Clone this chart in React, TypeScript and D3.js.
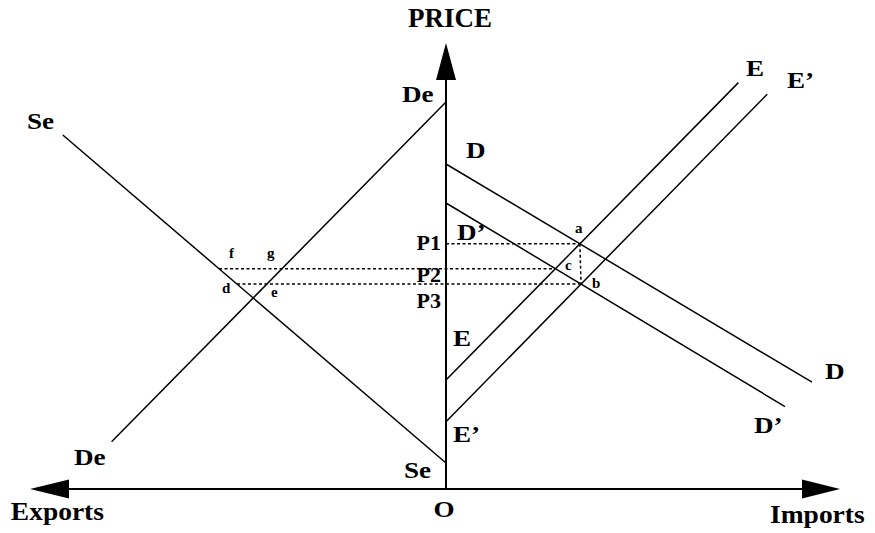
import React from "react";
import * as d3 from "d3";

// Curves: [quantity, price] endpoints in diagram units (imports > 0, exports < 0)
const deCurve: [number, number][] = [[0, 9.675], [-8.36, 1.18]];
const seCurve: [number, number][] = [[-9.58, 8.85], [0, 0.65]];
const dCurve: [number, number][] = [[0, 8.125], [9.15, 2.67]];
const dPrimeCurve: [number, number][] = [[0, 7.15], [8.475, 2.06]];
const eCurve: [number, number][] = [[0, 2.725], [7.31, 10.16]];
const ePrimeCurve: [number, number][] = [[0, 1.68], [8.03, 9.87]];

// Axis extents
const priceAxisTop = 11.15;
const priceArrowBase = 10.225;
const exportsTip = -10.4;
const exportsArrowBase = -9.425;
const importsTip = 9.85;
const importsArrowBase = 8.9;

// Labels: text, q, p, anchor, kind
const labelTexts = ["PRICE", "De", "D", "D\u2019", "P1", "P2", "P3", "a", "c", "b", "f", "g", "d", "e", "E", "E\u2019", "Se", "O", "E", "E\u2019", "D", "D\u2019", "Imports", "Exports", "Se", "De"];
const labelQ = [0.1, -1.1, 0.5, 0.275, -0.125, -0.125, -0.125, 3.225, 2.975, 3.65, -5.425, -4.475, -5.6, -4.375, 0.175, 0.175, -1.05, -0.05, 7.5, 8.525, 9.475, 7.7, 8.1, -10.88, -10.475, -9.3];
const labelP = [11.55, 9.675, 8.275, 6.225, 5.975, 5.175, 4.525, 6.4, 5.475, 5.025, 5.775, 5.775, 4.9, 4.8, 3.575, 1.175, 0.275, -0.7, 10.325, 10.025, 2.75, 1.4, -0.85, -0.775, 9.0, 0.6];
const labelKind = ["title", "big", "big", "big", "p", "p", "p", "small", "small", "small", "small", "small", "small", "small", "big", "big", "big", "big", "big", "big", "big", "big", "axis", "axis", "big", "big"];
const labelAnchor = ["middle", "start", "start", "start", "end", "end", "end", "start", "start", "start", "start", "start", "start", "start", "start", "start", "start", "middle", "start", "start", "start", "start", "start", "start", "start", "start"];

const W = 875;
const H = 533;

function intersect(l1: [number, number][], l2: [number, number][]): [number, number] {
  const [[x1, y1], [x2, y2]] = l1;
  const [[x3, y3], [x4, y4]] = l2;
  const m1 = (y2 - y1) / (x2 - x1);
  const m2 = (y4 - y3) / (x4 - x3);
  const x = (y3 - y1 + m1 * x1 - m2 * x3) / (m1 - m2);
  return [x, y1 + m1 * (x - x1)];
}
function qAtPrice(l: [number, number][], p: number): number {
  const [[x1, y1], [x2, y2]] = l;
  return x1 + ((p - y1) * (x2 - x1)) / (y2 - y1);
}

export default function App() {
  const x = d3.scaleLinear().domain([-10.4, 9.85]).range([30, 840]);
  const y = d3.scaleLinear().domain([0, 11]).range([489, 49]);
  const line = d3.line<[number, number]>().x((d) => x(d[0])).y((d) => y(d[1]));

  const a = intersect(dCurve, eCurve);
  const b = intersect(dPrimeCurve, ePrimeCurve);
  const c = intersect(dPrimeCurve, eCurve);
  const p2Start = qAtPrice(seCurve, c[1]);
  const p3Start = qAtPrice(seCurve, b[1]);

  const curves = [deCurve, seCurve, dCurve, dPrimeCurve, eCurve, ePrimeCurve];
  const dashed: [number, number][][] = [
    [[0, a[1]], a],
    [a, b],
    [[p2Start, c[1]], c],
    [[p3Start, b[1]], b],
  ];

  const fontSize: Record<string, number> = { title: 27, big: 24, p: 22, small: 15, axis: 25 };
  const stretch: Record<string, number> = { title: 1, big: 1.13, p: 1, small: 1, axis: 1.1 };

  const upArrow = [[0, priceAxisTop], [-0.25, priceArrowBase], [0.25, priceArrowBase]] as [number, number][];
  const leftArrow = [[exportsTip, 0], [exportsArrowBase, 0.24], [exportsArrowBase, -0.24]] as [number, number][];
  const rightArrow = [[importsTip, 0], [importsArrowBase, 0.24], [importsArrowBase, -0.24]] as [number, number][];

  return (
    <svg width={W} height={H} style={{ position: "absolute", left: 0, top: 0, background: "#fff" }}>
      <rect width={W} height={H} fill="#fff" />
      {/* axes */}
      <line x1={x(0)} x2={x(0)} y1={y(0)} y2={y(priceArrowBase)} stroke="#000" strokeWidth={2} />
      <line x1={x(exportsArrowBase)} x2={x(importsArrowBase)} y1={y(0)} y2={y(0)} stroke="#000" strokeWidth={2} />
      {[upArrow, leftArrow, rightArrow].map((pts, i) => (
        <path key={"ar" + i} d={line(pts)! + "Z"} fill="#000" />
      ))}
      {/* curves */}
      {curves.map((cv, i) => (
        <path key={"cv" + i} d={line(cv)!} stroke="#000" strokeWidth={1.5} fill="none" />
      ))}
      {/* dashed guides */}
      {dashed.map((seg, i) => (
        <path key={"ds" + i} d={line(seg)!} stroke="#000" strokeWidth={1.5} strokeDasharray="3,2.5" fill="none" />
      ))}
      {/* labels */}
      {labelTexts.map((t, i) => (
        <text
          key={"lb" + i}
          transform={`translate(${x(labelQ[i])},${y(labelP[i])}) scale(${stretch[labelKind[i]]},1)`}
          textAnchor={labelAnchor[i] as any}
          fontFamily="'Liberation Serif', 'Times New Roman', serif"
          fontWeight="bold"
          fontSize={fontSize[labelKind[i]]}
          fill="#000"
        >
          {t}
        </text>
      ))}
    </svg>
  );
}
